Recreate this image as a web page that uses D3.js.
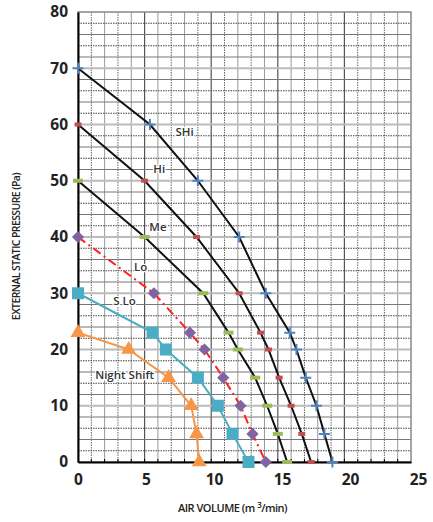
<!DOCTYPE html>
<html>
<head>
<meta charset="utf-8">
<script src="https://cdn.jsdelivr.net/npm/d3@7"></script>
<style>
  body { margin: 0; background: #fff; }
  svg { font-family: "Open Sans", "DejaVu Sans", sans-serif; }
</style>
</head>
<body>
<svg id="chart" width="433" height="522"></svg>
<script>
// fan curves: [air volume m3/min, static pressure Pa]
const sHi = [[0,70],[5.4,60],[9,50],[12.1,40],[14.1,30],[15.9,23],[16.4,20],[17.1,15],[17.9,10],[18.5,5],[19.1,0]];
const hi = [[0,60],[5,50],[8.9,40],[12.1,30],[13.7,23],[14.3,20],[15.1,15],[16,10],[16.8,5],[17.5,0]];
const me = [[0,50],[5,40],[9.4,30],[11.3,23],[12,20],[13.3,15],[14.2,10],[15,5],[15.7,0]];
const lo = [[0,40],[5.7,30],[8.4,23],[9.5,20],[10.9,15],[12.2,10],[13.1,5],[14.1,0]];
const sLo = [[0,30],[5.6,23],[6.6,20],[9,15],[10.5,10],[11.6,5],[12.8,0]];
const nightShift = [[0,23],[3.8,20],[6.8,15],[8.5,10],[8.9,5],[9.1,0]];

const xTicks = [0, 5, 10, 15, 20, 25];
const yTicks = [0, 10, 20, 30, 40, 50, 60, 70, 80];

// curve names placed next to lines [x, y, text]
const curveLabels = [[8.0,58.5,"SHi"],[6.1,52,"Hi"],[6.0,41.6,"Me"],[4.7,34.5,"Lo"],[3.5,28.4,"S Lo"],[3.5,15.3,"Night Shift"]];

const margin = {top: 12, right: 22, bottom: 60, left: 78},
    width = 411 - margin.left,
    height = 462 - margin.top;

const svg = d3.select("#chart");
const g = svg.append("g").attr("transform", `translate(${margin.left},${margin.top})`);

const x = d3.scaleLinear().domain([0, 25]).range([0, width]);
const y = d3.scaleLinear().domain([0, 80]).range([height, 0]);

// grid
const grid = g.append("g").attr("class", "grid");
d3.range(1, 25).forEach(v => {
    const major = v % 5 === 0;
    grid.append("line")
        .attr("x1", x(v)).attr("x2", x(v)).attr("y1", 0).attr("y2", height)
        .attr("stroke", major ? "#555" : (v % 2 ? "#666" : "#999"))
        .attr("stroke-width", major ? 1.2 : 1)
        .attr("stroke-dasharray", (!major && v % 2) ? "1.5,1" : null);
});
d3.range(2, 80, 2).forEach(v => {
    const major = v % 10 === 0;
    grid.append("line")
        .attr("x1", 0).attr("x2", width).attr("y1", y(v)).attr("y2", y(v))
        .attr("stroke", major ? "#bbb" : (v % 4 ? "#444" : "#777"))
        .attr("stroke-width", major ? 2 : 1)
        .attr("stroke-dasharray", (!major && v % 4) ? "1.5,1" : null);
});

// frame
g.append("rect").attr("width", width).attr("height", height)
    .attr("fill", "none").attr("stroke", "#888").attr("stroke-width", 1.5);

// axes
const xAxis = g.append("g")
    .attr("transform", `translate(0,${height})`)
    .call(d3.axisBottom(x).tickValues(xTicks).tickSize(0).tickPadding(12));
const yAxis = g.append("g")
    .call(d3.axisLeft(y).tickValues(yTicks).tickSize(0).tickPadding(10));
[xAxis, yAxis].forEach(a => {
    a.select(".domain").attr("stroke", "#000").attr("stroke-width", 2);
    a.selectAll("text").attr("font-size", 15.5).attr("font-weight", 700)
        .attr("fill", "#222").attr("font-family", "'Open Sans', sans-serif");
});
xAxis.selectAll("text").attr("dx", (d, i) => i * 1.4);
// small unit ticks on bottom axis
g.append("g").selectAll("line").data(d3.range(1, 25)).join("line")
    .attr("x1", d => x(d)).attr("x2", d => x(d))
    .attr("y1", height - 3).attr("y2", height)
    .attr("stroke", "#000").attr("stroke-width", 1);

// axis titles
g.append("text")
    .attr("x", width / 2 - 12).attr("y", height + 50)
    .attr("text-anchor", "middle")
    .attr("font-size", 11).attr("font-weight", 600)
    .attr("letter-spacing", -0.5).attr("fill", "#222")
    .html('AIR VOLUME (m  <tspan dy="-4" font-size="8">3</tspan><tspan dy="4">/min)</tspan>');

g.append("text")
    .attr("transform", `translate(${20 - margin.left},${y(38.3)}) rotate(-90)`)
    .attr("text-anchor", "middle")
    .attr("font-size", 10.5).attr("font-weight", 600)
    .attr("letter-spacing", -0.6).attr("fill", "#222")
    .text("EXTERNAL STATIC PRESSURE (Pa)");

const line = d3.line().x(d => x(d[0])).y(d => y(d[1]));

const series = [
    {data: sHi, stroke: "#111", dash: null, color: "#4f81bd", marker: "plus"},
    {data: hi, stroke: "#111", dash: null, color: "#c0504d", marker: "dashSmall"},
    {data: me, stroke: "#111", dash: null, color: "#9bbb59", marker: "dash"},
    {data: lo, stroke: "#ff2020", dash: "9,4,2,4", color: "#8064a2", marker: "diamond"},
    {data: sLo, stroke: "#4bacc6", dash: null, color: "#4bacc6", marker: "square"},
    {data: nightShift, stroke: "#f79646", dash: null, color: "#f79646", marker: "triangle"}
];

series.forEach(s => {
    g.append("path").datum(s.data)
        .attr("fill", "none")
        .attr("stroke", s.stroke)
        .attr("stroke-width", 2)
        .attr("stroke-dasharray", s.dash)
        .attr("d", line);
});

series.forEach(s => {
    const pts = g.append("g").selectAll("g").data(s.data).join("g")
        .attr("transform", d => `translate(${x(d[0])},${y(d[1])})`);
    if (s.marker === "plus") {
        pts.append("path").attr("d", "M-5.5,0H5.5M0,-5.5V5.5")
            .attr("stroke", s.color).attr("stroke-width", 2);
    } else if (s.marker === "dashSmall") {
        pts.append("rect").attr("x", -3.5).attr("y", -2).attr("width", 7).attr("height", 4)
            .attr("fill", s.color);
    } else if (s.marker === "dash") {
        pts.append("rect").attr("x", -5).attr("y", -2).attr("width", 10).attr("height", 4)
            .attr("fill", s.color);
    } else if (s.marker === "diamond") {
        pts.append("path").attr("d", d3.symbol(d3.symbolDiamond2, 95)())
            .attr("fill", s.color);
    } else if (s.marker === "square") {
        pts.append("rect").attr("x", -6).attr("y", -6).attr("width", 12).attr("height", 12)
            .attr("fill", s.color);
    } else if (s.marker === "triangle") {
        pts.append("path").attr("d", d3.symbol(d3.symbolTriangle, 95)())
            .attr("fill", s.color);
    }
});

// curve names
g.append("g").selectAll("text").data(curveLabels).join("text")
    .attr("x", d => x(d[0])).attr("y", d => y(d[1]))
    .attr("text-anchor", "middle")
    .attr("dominant-baseline", "middle")
    .attr("font-size", 11.5).attr("font-weight", 600)
    .attr("fill", "#333")
    .attr("stroke", "#fff").attr("stroke-width", 2.5).attr("paint-order", "stroke")
    .text(d => d[2]);
</script>
</body>
</html>
